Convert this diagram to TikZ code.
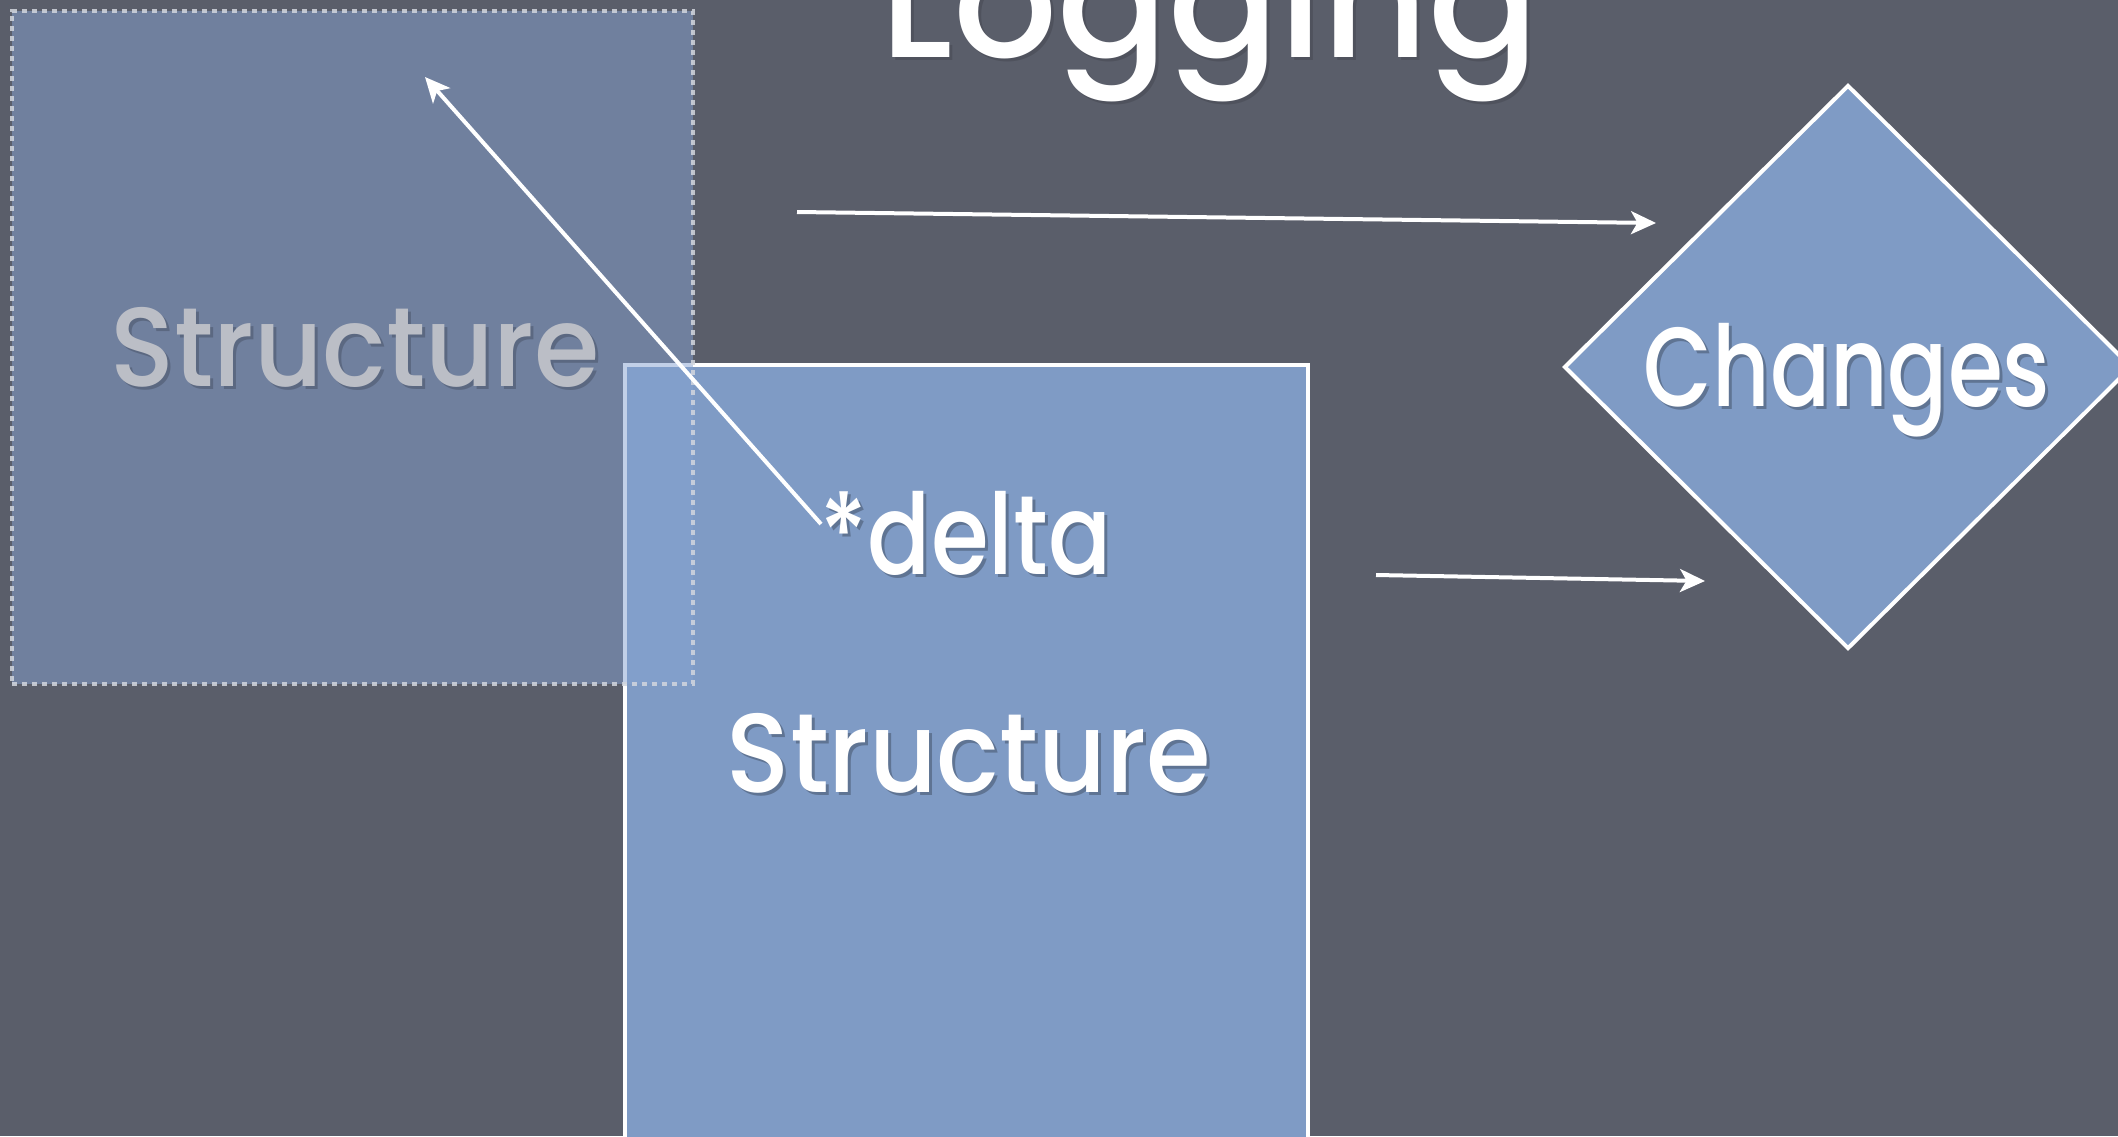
\documentclass[tikz,border=0pt]{standalone}
\usepackage{fontspec}
\setmainfont{Poppins Medium}
\usetikzlibrary{arrows.meta,shapes.geometric}

\definecolor{board}{HTML}{5A5E6A}
\definecolor{cardblue}{HTML}{7F9BC5}
\definecolor{ghostblue}{HTML}{86A3D2}
\definecolor{ghosttext}{HTML}{BBBEC6}
\definecolor{dotline}{HTML}{D2D6DE}

\tikzset{
  bigfont/.style={font=\fontsize{64pt}{78pt}\selectfont},
  titlefont/.style={font=\fontsize{93pt}{110pt}\selectfont},
  label/.style={inner sep=0pt, anchor=base, text=white},
  shade/.style={inner sep=0pt, anchor=base, text=black, opacity=0.25},
  card/.style={rectangle, fill=cardblue, draw=white, line width=0.08cm, inner sep=0pt},
  ghostcard/.style={rectangle, fill=ghostblue, fill opacity=0.5, draw=dotline,
    draw opacity=0.85, line width=0.09cm, dash pattern=on 0.1cm off 0.1cm, inner sep=0pt},
  gem/.style={diamond, fill=cardblue, draw=white, line width=0.08cm, inner sep=0pt},
  link/.style={draw=white, line width=0.08cm,
    -{Stealth[length=0.5cm, width=0.46cm, inset=0.13cm]}},
}
\newcommand{\narrow}[2]{\scalebox{#1}[1]{#2}}

\begin{document}
\begin{tikzpicture}[x=0.02cm, y=-0.02cm]
  \useasboundingbox (0,0) rectangle (2118,1136);
  \clip (0,0) rectangle (2118,1136);

  % chalkboard
  \fill[board] (0,0) rectangle (2118,1136);

  % current structure card
  \node[card, minimum width=13.66cm, minimum height=15.7cm] (cur) at (966.5,757.5) {};

  % change set
  \node[gem, minimum width=11.36cm, minimum height=11.28cm] (chg) at (1848,367) {};

  % previous structure, faded on top
  \node[ghostcard, minimum width=13.62cm, minimum height=13.46cm] (old) at (352.5,347.5) {};

  % texts with soft shadows
  \node[shade, titlefont, opacity=0.12] (titleS) at (1213,60) {\narrow{1.0}{Logging}};
  \node[label, titlefont] (title) at (1210,57) {\narrow{1.0}{Logging}};

  \node[shade, bigfont, opacity=0.18] (oldS) at (358,389) {\narrow{0.94}{Structure}};
  \node[label, bigfont, text=ghosttext] (oldT) at (355,386) {\narrow{0.94}{Structure}};

  \node[shade, bigfont] (curS) at (972,795) {\narrow{0.93}{Structure}};
  \node[label, bigfont] (curT) at (969,792) {\narrow{0.93}{Structure}};

  \node[shade, bigfont] (deltaS) at (969,577) {\narrow{0.83}{*delta}};
  \node[label, bigfont] (delta) at (966,574) {\narrow{0.83}{*delta}};

  \node[shade, bigfont] (chgS) at (1850,409) {\narrow{0.79}{Changes}};
  \node[label, bigfont] (chgT) at (1847,406) {\narrow{0.79}{Changes}};

  % connector ends
  \coordinate (a1s) at (797,212);
  \coordinate (a1e) at (1656,223);
  \coordinate (a2s) at (1376,575);
  \coordinate (a2e) at (1705,581);
  \coordinate (a3s) at (821,524);
  \coordinate (a3e) at (425,77);

  \draw[link] (a1s) -- (a1e);
  \draw[link] (a2s) -- (a2e);
  \draw[link] (a3s) -- (a3e);
\end{tikzpicture}
\end{document}
